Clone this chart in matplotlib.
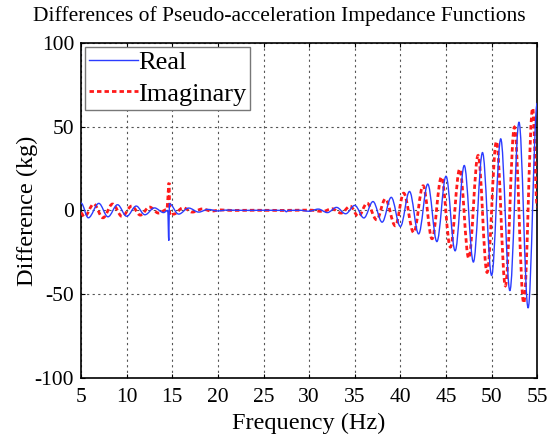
import matplotlib
matplotlib.use("Agg")
import matplotlib.pyplot as plt
from matplotlib.path import Path
from matplotlib.patches import PathPatch
from matplotlib.lines import Line2D

# Real part: extrema (frequency in Hz, difference in kg)
freq_real = [5.0, 5.8, 6.95, 7.95, 9.0, 10.0, 11.05, 12.0, 13.05, 14.05, 14.5,
             14.62, 14.68, 15.7, 16.8, 17.9, 18.9, 20.0, 21.0, 23.0, 25.0, 27.3,
             27.5, 27.7, 29.0, 30.0, 31.0, 32.0, 33.0, 34.0, 35.0, 36.0, 37.0,
             38.0, 39.0, 40.0, 41.0, 42.0, 43.0, 44.0, 45.0, 46.0, 47.0, 48.0,
             49.0, 50.0, 51.0, 52.0, 53.0, 54.0, 55.0]
diff_real = [4.4, -4.4, 4.2, -3.8, 3.4, -3.5, 2.6, -2.6, 1.5, -1.3, 0.0,
             -18.0, 4.0, -2.2, 1.4, -1.0, 0.6, -0.3, 0.2, 0.0, 0.1, 0.0,
             -0.8, 0.0, 0.1, -0.5, 0.8, -1.3, 1.8, -2.0, 3.0, -4.5, 5.3,
             -7.0, 7.8, -9.6, 11.3, -14.0, 15.7, -18.6, 20.4, -24.1, 26.8, -30.8,
             34.5, -38.8, 42.7, -47.9, 52.7, -58.2, 64.0]

# Imaginary part
freq_imag = [5.0, 5.35, 6.4, 7.4, 8.45, 9.5, 10.55, 11.5, 12.5, 13.5, 14.4,
             14.66, 14.72, 15.15, 16.2, 17.2, 18.3, 19.3, 20.3, 21.5, 24.0, 27.0,
             30.0, 31.5, 32.5, 33.5, 34.5, 35.4, 36.35, 37.4, 38.35, 39.45, 40.36,
             41.46, 42.49, 43.47, 44.5, 45.48, 46.5, 47.49, 48.52, 49.5, 50.53,
             51.51, 52.5, 53.52, 54.5, 55.0]
diff_imag = [-1.5, -3.8, 3.8, -4.4, 3.8, -3.6, 2.6, -2.8, 2.0, -1.6, 0.5,
             16.5, -3.0, -2.2, 1.6, -1.0, 0.9, -0.4, 0.3, 0.0, 0.1, 0.0,
             0.2, -0.6, 1.0, -1.6, 2.5, -3.6, 4.3, -5.6, 6.8, -9.2, 10.3,
             -13.2, 14.7, -16.9, 19.9, -21.9, 24.6, -28.5, 32.8, -37.0, 41.1,
             -45.0, 49.7, -55.3, 61.0, 2.0]

x_ticks = [5, 10, 15, 20, 25, 30, 35, 40, 45, 50, 55]
y_ticks = [-100, -50, 0, 50, 100]

plt.rcParams['font.family'] = ['Liberation Serif', 'DejaVu Serif']
plt.rcParams['axes.unicode_minus'] = False


def smooth_path(xs, ys, k=0.363):
    """Cubic Bezier through the read extrema, flat at each extremum."""
    verts = [(xs[0], ys[0])]
    codes = [Path.MOVETO]
    for i in range(len(xs) - 1):
        d = xs[i + 1] - xs[i]
        verts += [(xs[i] + k * d, ys[i]), (xs[i + 1] - k * d, ys[i + 1]),
                  (xs[i + 1], ys[i + 1])]
        codes += [Path.CURVE4] * 3
    return Path(verts, codes)


fig = plt.figure(figsize=(5.55, 4.37), dpi=100)
ax = fig.add_axes([0.146, 0.135, 0.822, 0.767])

real_color = '#2b3cff'
imag_color = '#ff1a1a'
imag_ls = (0, (1.6, 1.1))

ax.add_patch(PathPatch(smooth_path(freq_real, diff_real), facecolor='none',
                       edgecolor=real_color, lw=1.0, zorder=3))
ax.add_patch(PathPatch(smooth_path(freq_imag, diff_imag), facecolor='none',
                       edgecolor=imag_color, lw=2.0, linestyle=imag_ls,
                       zorder=2.9))

ax.set_xlim(5, 55)
ax.set_ylim(-100, 100)
ax.set_xticks(x_ticks)
ax.set_yticks(y_ticks)
ax.tick_params(direction='in', top=True, right=True, labelsize=15.5, length=3)
ax.tick_params(axis='x', pad=7.5)
ax.tick_params(axis='y', pad=5)
ax.grid(True, color='#555555', linestyle=(0, (2, 3)), linewidth=0.8)
for s in ax.spines.values():
    s.set_linewidth(1.2)

ax.set_xlabel('Frequency (Hz)', fontsize=17.5)
ax.set_ylabel('Difference (kg)', fontsize=17.5)
ax.xaxis.set_label_coords(0.5, -0.104)
ax.yaxis.set_label_coords(-0.094, 0.5)
fig.suptitle('Differences of Pseudo-acceleration Impedance Functions',
             fontsize=15.5, x=0.503, y=0.963, va='center')

handles = [Line2D([], [], color=real_color, lw=1.0),
           Line2D([], [], color=imag_color, lw=2.0, linestyle=imag_ls)]
leg = ax.legend(handles, ['Real', 'Imaginary'], loc='upper left', fontsize=19,
                handlelength=1.85, handletextpad=0.0, borderpad=0.15,
                labelspacing=0.3, fancybox=False, framealpha=1,
                edgecolor='#777777', borderaxespad=0.15)
leg.get_frame().set_linewidth(1.0)

fig.savefig('out.png', dpi=100)
